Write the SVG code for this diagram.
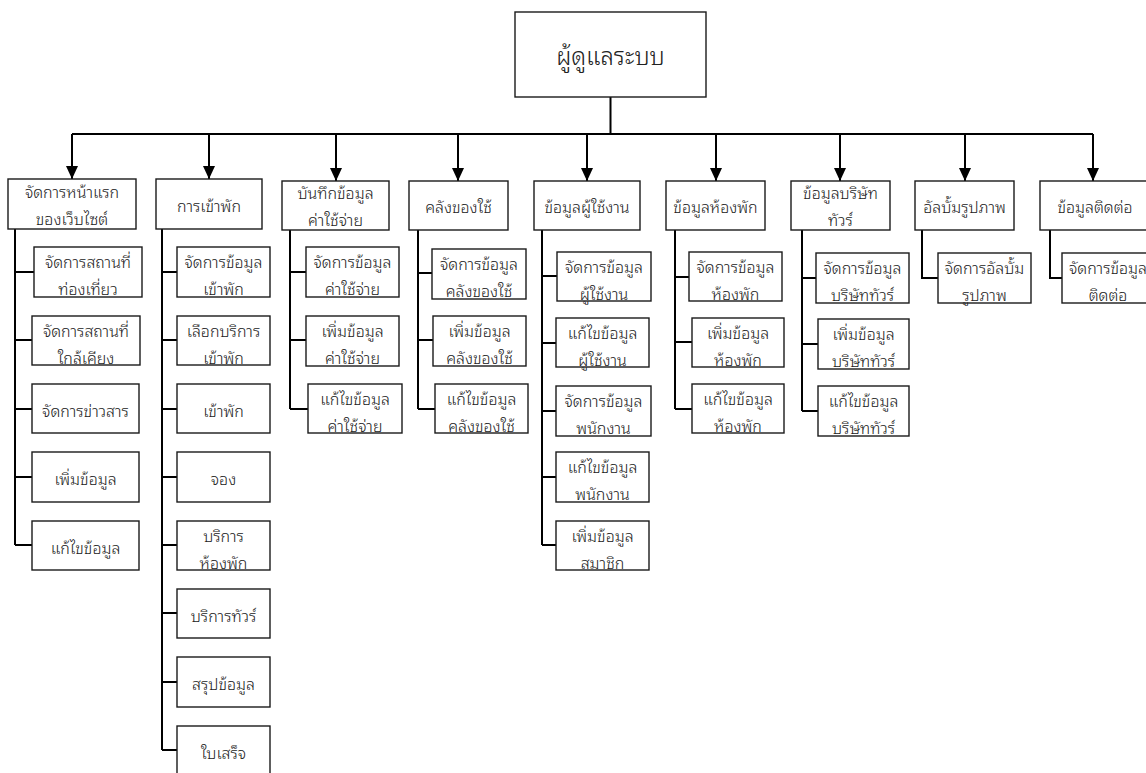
<svg xmlns="http://www.w3.org/2000/svg" width="1146" height="773" viewBox="0 0 1146 773">
<defs>
<style>
.bg{fill:#ffffff}
.box{fill:#ffffff;stroke:#1a1a1a;stroke-width:1.4}
.t{font-family:"Noto Sans Thai Looped","Noto Sans Thai","Tahoma","Noto Sans",sans-serif;font-size:16px;font-weight:300;fill:#222;text-anchor:middle}
.tt{font-family:"Noto Sans Thai Looped","Noto Sans Thai","Tahoma","Noto Sans",sans-serif;font-size:24px;font-weight:300;fill:#222;text-anchor:middle}
.ln{fill:none;stroke:#000;stroke-width:2}
.ar{fill:none;stroke:#000;stroke-width:2;marker-end:url(#ah)}
</style>
<marker id="ah" viewBox="0 0 13 12" refX="13" refY="6" markerWidth="13" markerHeight="12" markerUnits="userSpaceOnUse" orient="auto">
<path d="M0,0 L13,6 L0,12 Z" fill="#000"/>
</marker>
</defs>
<rect class="bg" x="0" y="0" width="1146" height="773"/>
<g id="connectors">
<path class="ln" d="M610.5,97 V134 M72,134 H1093"/>
<path class="ar" d="M72,134 V179"/>
<path class="ar" d="M209,134 V179"/>
<path class="ar" d="M336,134 V181"/>
<path class="ar" d="M458,134 V181"/>
<path class="ar" d="M587,134 V181"/>
<path class="ar" d="M716,134 V181"/>
<path class="ar" d="M840,134 V181"/>
<path class="ar" d="M965,134 V181"/>
<path class="ar" d="M1093,134 V181"/>
<path class="ln" d="M15,229 V545 M15,272 H34 M15,340 H32 M15,409 H32 M15,477 H32 M15,545 H32"/>
<path class="ln" d="M162,229 V750 M162,272 H177 M162,340 H177 M162,409 H177 M162,477 H177 M162,545 H177 M162,613 H177 M162,682 H177 M162,750 H177"/>
<path class="ln" d="M290,230 V409 M290,272 H306 M290,340 H306 M290,409 H308"/>
<path class="ln" d="M418,230 V409 M418,273 H432 M418,340 H433 M418,409 H435"/>
<path class="ln" d="M542,230 V545 M542,276 H557 M542,343 H556 M542,411 H556 M542,477 H556 M542,545 H556"/>
<path class="ln" d="M675,230 V409 M675,277 H689 M675,342 H692 M675,409 H692"/>
<path class="ln" d="M802,230 V411 M802,278 H816 M802,344 H818 M802,411 H818"/>
<path class="ln" d="M922,230 V278 H938"/>
<path class="ln" d="M1050,230 V278 H1062"/>
</g>
<g id="root"><rect class="box" x="515" y="12" width="191" height="85"/><text class="tt" x="610.5" y="65">ผู้ดูแลระบบ</text></g>
<g id="c1"><rect class="box" x="8" y="179" width="128" height="50"/><text class="t" x="72" y="198">จัดการหน้าแรก</text><text class="t" x="72" y="225">ของเว็บไซต์</text></g>
<g id="c2"><rect class="box" x="156" y="179" width="106" height="50"/><text class="t" x="209" y="212">การเข้าพัก</text></g>
<g id="c3"><rect class="box" x="282" y="181" width="107" height="49"/><text class="t" x="335.5" y="199">บันทึกข้อมูล</text><text class="t" x="335.5" y="226">ค่าใช้จ่าย</text></g>
<g id="c4"><rect class="box" x="409" y="181" width="99" height="49"/><text class="t" x="458.5" y="213">คลังของใช้</text></g>
<g id="c5"><rect class="box" x="534" y="181" width="106" height="49"/><text class="t" x="587" y="213">ข้อมูลผู้ใช้งาน</text></g>
<g id="c6"><rect class="box" x="666" y="181" width="99" height="49"/><text class="t" x="715.5" y="213">ข้อมูลห้องพัก</text></g>
<g id="c7"><rect class="box" x="791" y="181" width="99" height="49"/><text class="t" x="840.5" y="199">ข้อมูลบริษัท</text><text class="t" x="840.5" y="226">ทัวร์</text></g>
<g id="c8"><rect class="box" x="915" y="181" width="99" height="49"/><text class="t" x="964.5" y="213">อัลบั้มรูปภาพ</text></g>
<g id="c9"><rect class="box" x="1040" y="181" width="110" height="49"/><text class="t" x="1095" y="213">ข้อมูลติดต่อ</text></g>
<g id="c1s1"><rect class="box" x="34" y="247" width="108" height="50"/><text class="t" x="88" y="268">จัดการสถานที่</text><text class="t" x="88" y="295">ท่องเที่ยว</text></g>
<g id="c1s2"><rect class="box" x="32" y="316" width="108" height="49"/><text class="t" x="86" y="337">จัดการสถานที่</text><text class="t" x="86" y="364">ใกล้เคียง</text></g>
<g id="c1s3"><rect class="box" x="32" y="384" width="107" height="49"/><text class="t" x="85.5" y="417">จัดการข่าวสาร</text></g>
<g id="c1s4"><rect class="box" x="32" y="452" width="107" height="50"/><text class="t" x="85.5" y="485">เพิ่มข้อมูล</text></g>
<g id="c1s5"><rect class="box" x="32" y="521" width="107" height="49"/><text class="t" x="85.5" y="554">แก้ไขข้อมูล</text></g>
<g id="c2s1"><rect class="box" x="177" y="247" width="93" height="50"/><text class="t" x="223.5" y="268">จัดการข้อมูล</text><text class="t" x="223.5" y="295">เข้าพัก</text></g>
<g id="c2s2"><rect class="box" x="177" y="316" width="93" height="49"/><text class="t" x="223.5" y="337">เลือกบริการ</text><text class="t" x="223.5" y="364">เข้าพัก</text></g>
<g id="c2s3"><rect class="box" x="177" y="384" width="93" height="49"/><text class="t" x="223.5" y="417">เข้าพัก</text></g>
<g id="c2s4"><rect class="box" x="177" y="452" width="93" height="50"/><text class="t" x="223.5" y="485">จอง</text></g>
<g id="c2s5"><rect class="box" x="177" y="521" width="93" height="49"/><text class="t" x="223.5" y="542">บริการ</text><text class="t" x="223.5" y="569">ห้องพัก</text></g>
<g id="c2s6"><rect class="box" x="177" y="589" width="93" height="49"/><text class="t" x="223.5" y="622">บริการทัวร์</text></g>
<g id="c2s7"><rect class="box" x="177" y="657" width="93" height="50"/><text class="t" x="223.5" y="690">สรุปข้อมูล</text></g>
<g id="c2s8"><rect class="box" x="177" y="726" width="93" height="49"/><text class="t" x="223.5" y="759">ใบเสร็จ</text></g>
<g id="c3s1"><rect class="box" x="306" y="247" width="93" height="50"/><text class="t" x="352.5" y="268">จัดการข้อมูล</text><text class="t" x="352.5" y="295">ค่าใช้จ่าย</text></g>
<g id="c3s2"><rect class="box" x="306" y="316" width="93" height="50"/><text class="t" x="352.5" y="337">เพิ่มข้อมูล</text><text class="t" x="352.5" y="364">ค่าใช้จ่าย</text></g>
<g id="c3s3"><rect class="box" x="308" y="384" width="94" height="49"/><text class="t" x="355" y="405">แก้ไขข้อมูล</text><text class="t" x="355" y="432">ค่าใช้จ่าย</text></g>
<g id="c4s1"><rect class="box" x="432" y="249" width="94" height="50"/><text class="t" x="479" y="270">จัดการข้อมูล</text><text class="t" x="479" y="297">คลังของใช้</text></g>
<g id="c4s2"><rect class="box" x="433" y="316" width="93" height="50"/><text class="t" x="479.5" y="337">เพิ่มข้อมูล</text><text class="t" x="479.5" y="364">คลังของใช้</text></g>
<g id="c4s3"><rect class="box" x="435" y="384" width="93" height="49"/><text class="t" x="481.5" y="405">แก้ไขข้อมูล</text><text class="t" x="481.5" y="432">คลังของใช้</text></g>
<g id="c5s1"><rect class="box" x="557" y="252" width="94" height="49"/><text class="t" x="604" y="273">จัดการข้อมูล</text><text class="t" x="604" y="300">ผู้ใช้งาน</text></g>
<g id="c5s2"><rect class="box" x="556" y="318" width="93" height="49"/><text class="t" x="602.5" y="339">แก้ไขข้อมูล</text><text class="t" x="602.5" y="366">ผู้ใช้งาน</text></g>
<g id="c5s3"><rect class="box" x="556" y="386" width="95" height="50"/><text class="t" x="603.5" y="407">จัดการข้อมูล</text><text class="t" x="603.5" y="434">พนักงาน</text></g>
<g id="c5s4"><rect class="box" x="556" y="452" width="93" height="50"/><text class="t" x="602.5" y="473">แก้ไขข้อมูล</text><text class="t" x="602.5" y="500">พนักงาน</text></g>
<g id="c5s5"><rect class="box" x="556" y="521" width="93" height="49"/><text class="t" x="602.5" y="542">เพิ่มข้อมูล</text><text class="t" x="602.5" y="569">สมาชิก</text></g>
<g id="c6s1"><rect class="box" x="689" y="252" width="93" height="49"/><text class="t" x="735.5" y="273">จัดการข้อมูล</text><text class="t" x="735.5" y="300">ห้องพัก</text></g>
<g id="c6s2"><rect class="box" x="692" y="318" width="92" height="49"/><text class="t" x="738" y="339">เพิ่มข้อมูล</text><text class="t" x="738" y="366">ห้องพัก</text></g>
<g id="c6s3"><rect class="box" x="692" y="384" width="92" height="49"/><text class="t" x="738" y="405">แก้ไขข้อมูล</text><text class="t" x="738" y="432">ห้องพัก</text></g>
<g id="c7s1"><rect class="box" x="816" y="253" width="93" height="50"/><text class="t" x="862.5" y="274">จัดการข้อมูล</text><text class="t" x="862.5" y="301">บริษัททัวร์</text></g>
<g id="c7s2"><rect class="box" x="818" y="319" width="91" height="50"/><text class="t" x="863.5" y="340">เพิ่มข้อมูล</text><text class="t" x="863.5" y="367">บริษัททัวร์</text></g>
<g id="c7s3"><rect class="box" x="818" y="386" width="91" height="50"/><text class="t" x="863.5" y="407">แก้ไขข้อมูล</text><text class="t" x="863.5" y="434">บริษัททัวร์</text></g>
<g id="c8s1"><rect class="box" x="938" y="253" width="93" height="50"/><text class="t" x="984.5" y="274">จัดการอัลบั้ม</text><text class="t" x="984.5" y="301">รูปภาพ</text></g>
<g id="c9s1"><rect class="box" x="1062" y="253" width="92" height="50"/><text class="t" x="1108" y="274">จัดการข้อมูล</text><text class="t" x="1108" y="301">ติดต่อ</text></g>
</svg>
